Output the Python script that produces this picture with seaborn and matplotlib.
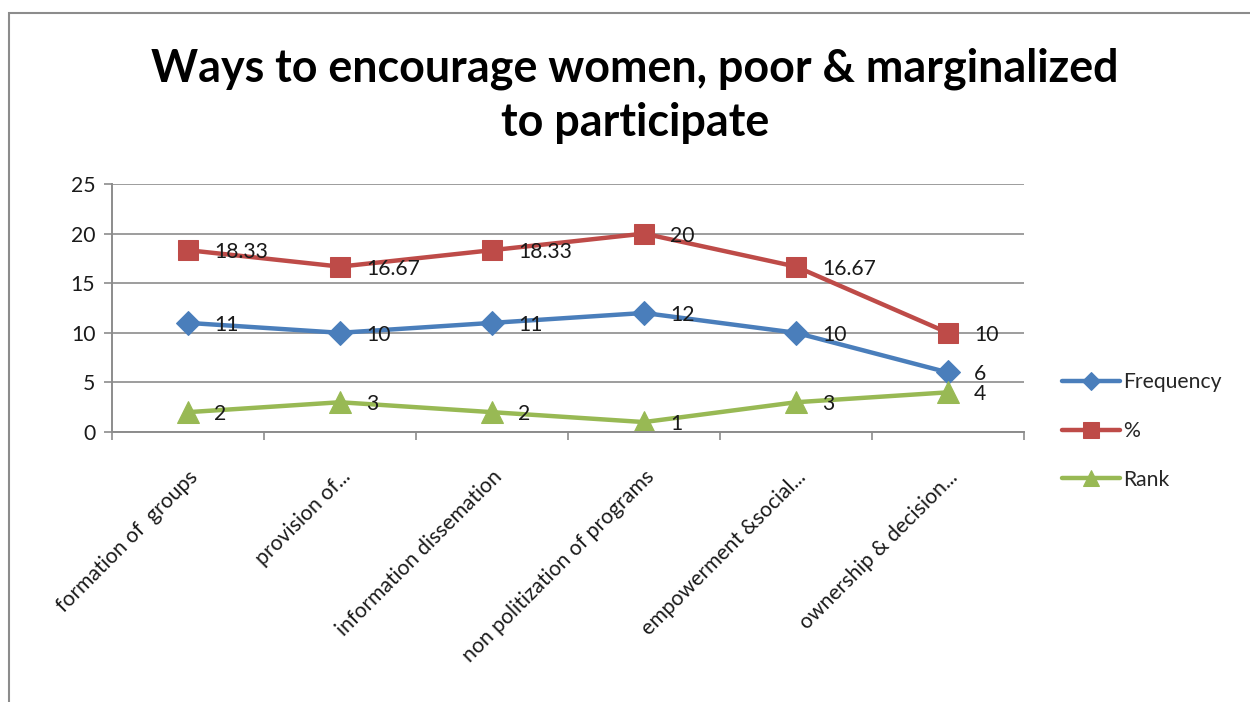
import matplotlib
matplotlib.use("Agg")
import matplotlib.pyplot as plt
import matplotlib.transforms as mtransforms
from matplotlib.patches import Rectangle
import seaborn as sns
import pandas as pd

# ---- data ----
categories = [
    "formation of  groups",
    "provision of...",
    "information dissemation",
    "non politization of programs",
    "empowerment &social...",
    "ownership & decision...",
]
frequency = [11, 10, 11, 12, 10, 6]
percent = [18.33, 16.67, 18.33, 20, 16.67, 10]
rank = [2, 3, 2, 1, 3, 4]
series_names = ["Frequency", "%", "Rank"]
y_ticks = [0, 5, 10, 15, 20, 25]

colors = {"Frequency": "#4A7EBB", "%": "#BE4B48", "Rank": "#98B954"}
markers = {"Frequency": "D", "%": "s", "Rank": "^"}
msizes = {"Frequency": 12.5, "%": 15, "Rank": 16}

df = pd.DataFrame({"idx": range(len(categories)),
                   "Frequency": frequency, "%": percent, "Rank": rank})
long = df.melt(id_vars="idx", value_vars=series_names,
               var_name="series", value_name="value")

sns.set_theme(style="white")
plt.rcParams["font.family"] = ["Lato", "DejaVu Sans"]

FS = 15.2
W, H = 1250, 702
fig = plt.figure(figsize=(W / 100, H / 100), dpi=100)
ax = fig.add_axes([112 / W, 1 - 432 / H, (1024 - 112) / W, (432 - 184) / H])

grid_col = "#8C8C8C"
for name in series_names:
    sub = long[long["series"] == name]
    sns.lineplot(data=sub, x="idx", y="value", ax=ax, color=colors[name],
                 marker=markers[name], markersize=msizes[name],
                 markeredgecolor=colors[name], linewidth=3.2,
                 label=name, sort=False, estimator=None)

# value labels to the right of each point
text_off = mtransforms.offset_copy(ax.transData, fig=fig, x=26, y=-2, units="dots")
for name in series_names:
    for i, v in enumerate(df[name]):
        ax.text(i, v, f"{v:g}", transform=text_off, ha="left", va="center",
                fontsize=FS, color="#1a1a1a")

ax.set_xlim(-0.5, len(categories) - 0.5)
ax.set_ylim(0, 25)
ax.set_yticks(y_ticks)
ax.set_yticklabels([str(t) for t in y_ticks], fontsize=FS, color="#1a1a1a")
ax.grid(axis="y", color=grid_col, linewidth=1.2)
ax.set_axisbelow(True)
ax.set_xlabel("")
ax.set_ylabel("")

ax.set_xticks(range(len(categories)))
ax.set_xticklabels(categories, rotation=45, ha="right", va="top",
                   rotation_mode="anchor", fontsize=FS, color="#1a1a1a")
ax.set_xticks([i - 0.5 for i in range(len(categories) + 1)], minor=True)
ax.tick_params(axis="x", which="major", length=0, pad=25)
ax.tick_params(axis="x", which="minor", length=6, width=1.2, color=grid_col,
               direction="out", bottom=True)
ax.tick_params(axis="y", which="major", length=6, width=1.2, color=grid_col,
               direction="out", left=True, pad=6)

for side in ["top", "right"]:
    ax.spines[side].set_visible(False)
for side in ["left", "bottom"]:
    ax.spines[side].set_color(grid_col)
    ax.spines[side].set_linewidth(1.4)

# legend outside the plot on the right
ax.legend(loc="center left", bbox_to_anchor=(1062 / W, 1 - 431 / H),
          bbox_transform=fig.transFigure, frameon=False, fontsize=FS,
          handlelength=2.75, handletextpad=0.15, labelspacing=1.35,
          borderpad=0, borderaxespad=0, markerscale=0.75)

fig.text(635 / W, 1 - 96 / H,
         "Ways to encourage women, poor & marginalized\nto participate",
         ha="center", va="center", fontsize=32.3, fontweight="bold",
         linespacing=1.36, color="#000000")

# chart frame
fig.patches.append(Rectangle((9 / W, -0.05), 1.2, 1 - 13 / H + 0.05,
                             transform=fig.transFigure, fill=False,
                             edgecolor="#8C8C8C", linewidth=1.5))

fig.savefig("out.png", dpi=100, facecolor="white")
